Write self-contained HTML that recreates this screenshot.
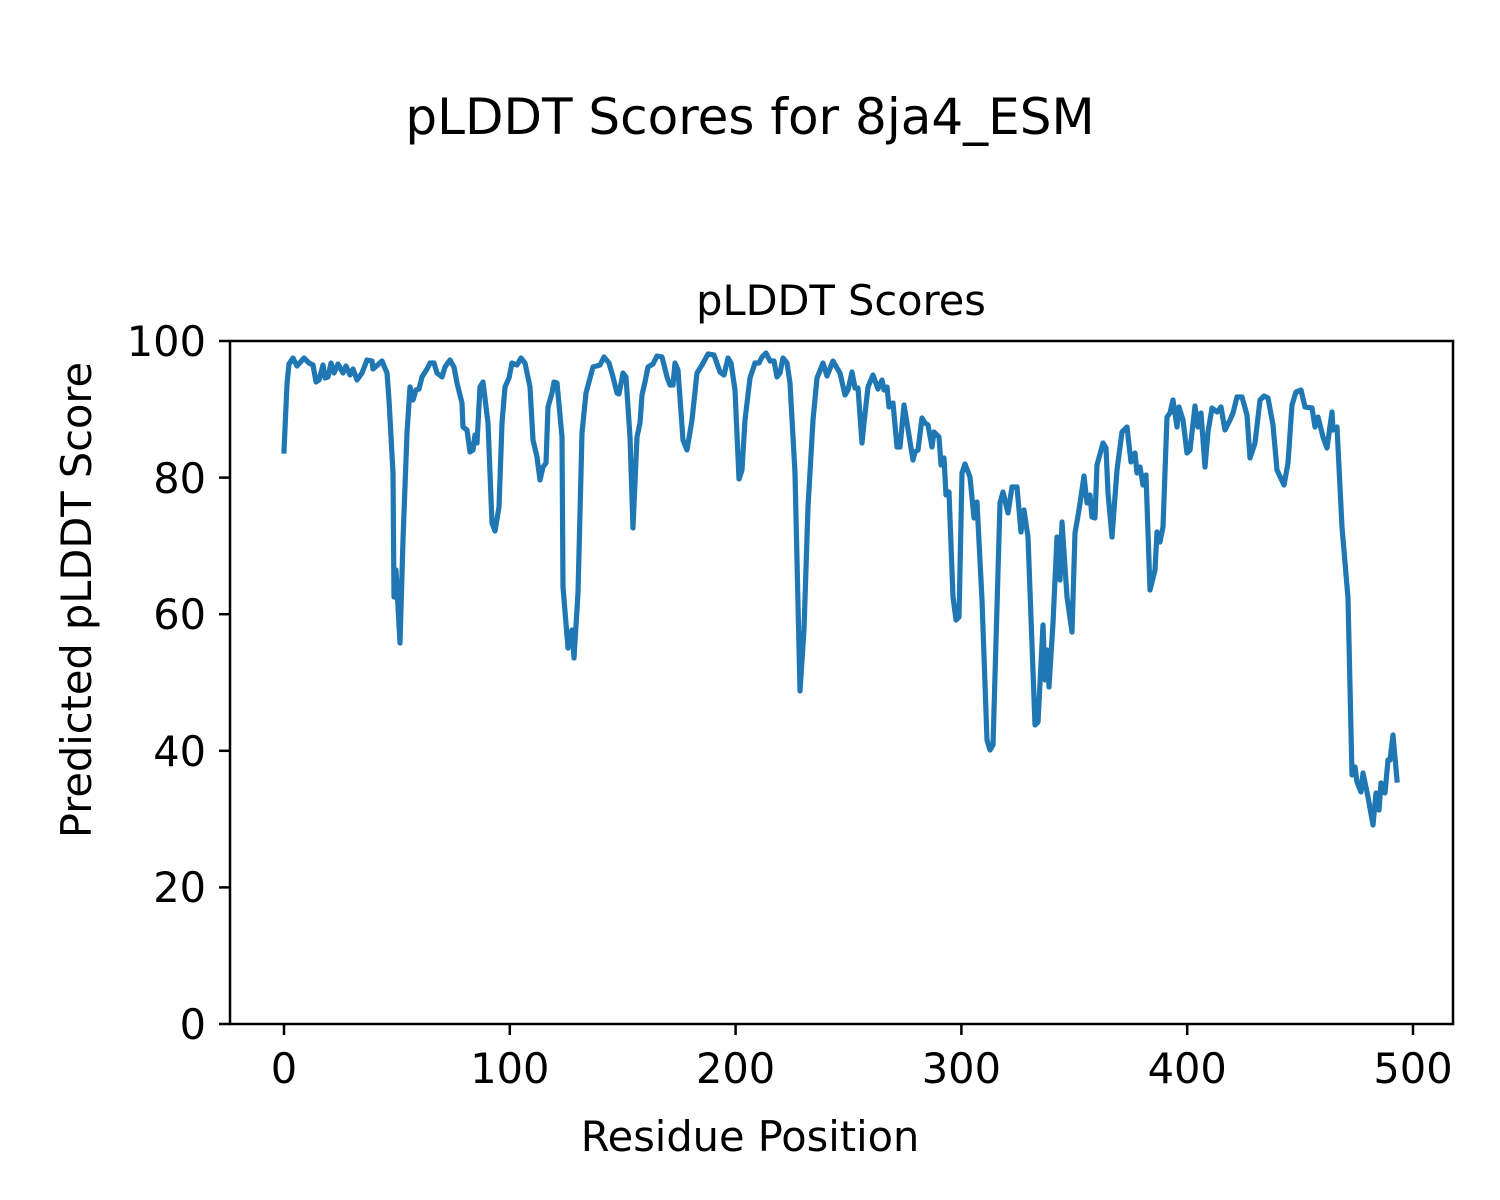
<!DOCTYPE html>
<html><head><meta charset="utf-8"><style>
html,body{margin:0;padding:0;background:#fff;}
svg{display:block;}
text{font-family:"DejaVu Sans","Liberation Sans",sans-serif;fill:#000;}
</style></head><body>
<svg width="1500" height="1200" viewBox="0 0 1500 1200" xmlns="http://www.w3.org/2000/svg">
<rect width="1500" height="1200" fill="#fff"/>
<text x="750" y="134" font-size="50" text-anchor="middle">pLDDT Scores for 8ja4_ESM</text>
<text x="841" y="315" font-size="41.5" text-anchor="middle">pLDDT Scores</text>
<polyline fill="none" stroke="#1f77b4" stroke-width="5.2" stroke-linejoin="round" stroke-linecap="square" points="
284,451 287,384 289,364 293,358 297,366 304,358 309,363 313,365 316,382 319,380 323,365 325,378 328,377 331,363 334,373 338,364 343,373 346,366 350,375 353,369 357,380 362,373 367,360 372,361 373,369 382,361 387,373 389,400 393,473 394,597 396,570 400,643 403,540 407,433 410,387 413,400 416,390 419,389 422,377 427,369 430,363 434,363 437,373 442,377 445,367 450,360 454,367 457,383 462,403 463,427 467,430 470,452 473,450 475,435 477,443 480,387 483,382 488,423 492,523 495,531 499,507 502,423 505,387 509,378 512,363 517,365 521,358 525,363 530,387 533,440 537,457 540,480 543,467 546,463 548,407 552,393 554,382 557,383 562,437 563,587 568,648 572,630 574,658 578,593 582,433 586,393 593,367 600,365 604,357 609,363 613,377 617,393 619,394 623,373 626,377 630,437 633,528 637,437 640,423 642,395 645,382 648,367 653,364 657,356 662,357 667,377 670,385 673,385 675,363 678,370 683,440 687,450 692,420 697,373 702,365 708,354 714,355 720,372 724,375 728,358 731,363 735,390 739,479 742,470 745,420 750,378 755,363 759,363 762,357 766,353 770,361 774,361 777,377 780,373 783,358 787,363 790,383 795,473 800,691 804,630 808,507 813,420 817,378 823,363 827,376 833,361 837,368 840,373 845,395 848,390 852,372 855,388 858,388 862,443 864,423 868,387 873,375 878,389 882,380 884,390 887,387 889,407 893,403 897,447 900,447 904,405 907,423 913,460 915,452 918,450 922,418 925,423 928,425 932,447 934,432 939,437 941,465 944,458 946,495 949,492 953,597 956,620 959,617 962,473 965,464 970,477 974,518 977,502 982,600 987,740 990,750 993,745 1000,503 1003,492 1008,513 1012,487 1017,487 1021,532 1024,510 1028,537 1035,725 1038,722 1043,625 1045,680 1047,650 1049,687 1053,623 1057,537 1060,580 1062,522 1067,597 1072,632 1075,533 1079,510 1084,476 1087,503 1090,495 1092,517 1095,518 1097,465 1103,443 1106,448 1108,493 1112,537 1117,470 1122,432 1127,427 1131,462 1135,453 1137,473 1140,467 1143,485 1146,475 1150,590 1155,570 1157,532 1160,542 1163,527 1167,417 1170,413 1173,400 1177,427 1179,407 1183,420 1187,453 1190,450 1195,406 1198,427 1201,413 1205,467 1208,432 1212,408 1217,412 1221,407 1225,430 1230,420 1233,413 1237,397 1242,397 1247,415 1250,458 1255,443 1260,400 1264,396 1268,398 1273,425 1277,470 1284,485 1288,463 1292,405 1296,392 1301,390 1305,407 1312,408 1315,427 1318,417 1323,437 1327,448 1332,412 1333,430 1337,427 1342,527 1348,598 1352,775 1355,767 1357,782 1361,792 1363,773 1368,797 1373,825 1376,793 1379,810 1381,783 1385,793 1388,760 1390,760 1393,735 1397,780"/>
<rect x="230" y="341" width="1223" height="683" fill="none" stroke="#000" stroke-width="2.5"/>
<g stroke="#000" stroke-width="2.5">
<line x1="230" y1="1024" x2="219" y2="1024"/>
<line x1="230" y1="887.4" x2="219" y2="887.4"/>
<line x1="230" y1="750.8" x2="219" y2="750.8"/>
<line x1="230" y1="614.2" x2="219" y2="614.2"/>
<line x1="230" y1="477.6" x2="219" y2="477.6"/>
<line x1="230" y1="341" x2="219" y2="341"/>
<line x1="284" y1="1024" x2="284" y2="1035"/>
<line x1="509.8" y1="1024" x2="509.8" y2="1035"/>
<line x1="735.6" y1="1024" x2="735.6" y2="1035"/>
<line x1="961.4" y1="1024" x2="961.4" y2="1035"/>
<line x1="1187.2" y1="1024" x2="1187.2" y2="1035"/>
<line x1="1413" y1="1024" x2="1413" y2="1035"/>
</g>
<g font-size="41.5" text-anchor="end">
<text x="206" y="1039">0</text>
<text x="206" y="902">20</text>
<text x="206" y="766">40</text>
<text x="206" y="629">60</text>
<text x="206" y="493">80</text>
<text x="206" y="356">100</text>
</g>
<g font-size="41.5" text-anchor="middle">
<text x="284" y="1083">0</text>
<text x="509.8" y="1083">100</text>
<text x="735.6" y="1083">200</text>
<text x="961.4" y="1083">300</text>
<text x="1187.2" y="1083">400</text>
<text x="1413" y="1083">500</text>
</g>
<text x="750" y="1151" font-size="41.5" text-anchor="middle">Residue Position</text>
<text transform="translate(91,600) rotate(-90)" font-size="41.5" text-anchor="middle">Predicted pLDDT Score</text>
</svg>
</body></html>
